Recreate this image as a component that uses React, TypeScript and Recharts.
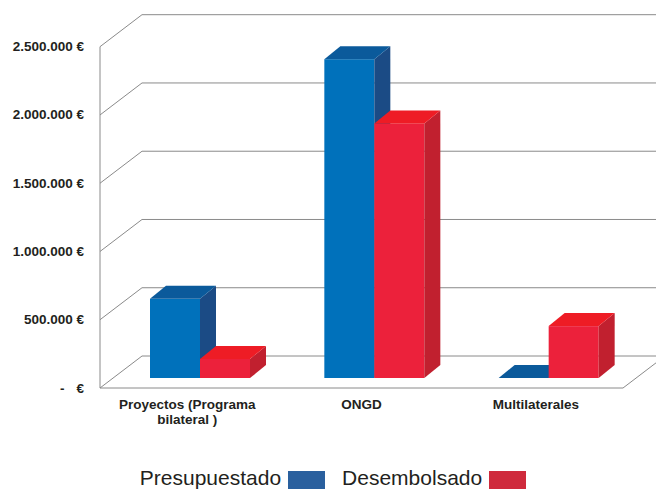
import { Bar, BarChart, CartesianGrid, Legend, XAxis, YAxis } from "recharts";

const categories = ["Proyectos (Programa bilateral )", "ONGD", "Multilaterales"];
const categoryLines = [["Proyectos (Programa", "bilateral )"], ["ONGD"], ["Multilaterales"]];
const presupuestado = [580000, 2335000, 0];
const desembolsado = [140000, 1865000, 380000];
const yTicks = [0, 500000, 1000000, 1500000, 2000000, 2500000];

const data = categories.map((name, i) => ({
  name,
  presupuestado: presupuestado[i],
  desembolsado: desembolsado[i],
}));

// perspective of the back wall and where the bars sit inside the depth
const DEPTH_X = 42;
const DEPTH_Y = 32;
const BAR_SHIFT_X = 13;
const BAR_SHIFT_Y = 10;
const BAR_DEPTH_X = 16;
const BAR_DEPTH_Y = 13;

const gridColor = "#8a8a8a";
const textColor = "#231f20";

const blue = { front: "#0071bb", top: "#0b5a9b", side: "#1b4b85", legend: "#2a609e" };
const red = { front: "#ec213b", top: "#ee1c25", side: "#c1202f", legend: "#cf2a3c" };

const fmt = (v: number) => v.toLocaleString("de-DE");

function make3DBar(colors: typeof blue) {
  return (props: any) => {
    const { x, y, width, height } = props;
    if (x == null || y == null) return <g />;
    const h = Math.max(0, height || 0);
    const fx = x + BAR_SHIFT_X;
    const fy = y - BAR_SHIFT_Y;
    const w = width;
    const top = `M${fx},${fy} L${fx + BAR_DEPTH_X},${fy - BAR_DEPTH_Y} L${fx + w + BAR_DEPTH_X},${fy - BAR_DEPTH_Y} L${fx + w},${fy} Z`;
    const side = `M${fx + w},${fy} L${fx + w + BAR_DEPTH_X},${fy - BAR_DEPTH_Y} L${fx + w + BAR_DEPTH_X},${fy + h - BAR_DEPTH_Y} L${fx + w},${fy + h} Z`;
    return (
      <g>
        {h > 0 && <rect x={fx} y={fy} width={w} height={h} fill={colors.front} />}
        {h > 0 && <path d={side} fill={colors.side} />}
        <path d={top} fill={colors.top} />
      </g>
    );
  };
}

const GridLine = (props: any) => {
  const { x1, x2, y1, y, height } = props;
  const isFloor = Math.abs(y1 - (y + height)) < 1;
  return (
    <g fill="none" stroke={gridColor} strokeWidth={1}>
      <path d={`M${x1},${y1} L${x1 + DEPTH_X},${y1 - DEPTH_Y} L${x2 + DEPTH_X + 20},${y1 - DEPTH_Y}`} />
      {isFloor && <path d={`M${x1},${y1} L${x2},${y1} L${x2 + DEPTH_X},${y1 - DEPTH_Y}`} />}
    </g>
  );
};

const YTick = (props: any) => {
  const { x, y, payload } = props;
  const v = payload.value as number;
  const style = { fontFamily: "Liberation Sans, Arial, sans-serif", fontSize: 13.5, fontWeight: 700, fill: textColor };
  if (v === 0) {
    return (
      <g>
        <text x={x - 19.5} y={y + 4.5} textAnchor="end" style={style}>-</text>
        <text x={x} y={y + 4.5} textAnchor="end" style={style}>€</text>
      </g>
    );
  }
  return (
    <text x={x} y={y + 4.5} textAnchor="end" style={style}>
      {fmt(v)} €
    </text>
  );
};

const XTick = (props: any) => {
  const { x, y, index } = props;
  const lines = categoryLines[index] || [];
  return (
    <text
      x={x}
      y={y}
      textAnchor="middle"
      style={{ fontFamily: "Liberation Sans, Arial, sans-serif", fontSize: 13.5, fontWeight: 700, fill: textColor }}
    >
      {lines.map((line, i) => (
        <tspan key={i} x={x} dy={i === 0 ? 21 : 15}>
          {line}
        </tspan>
      ))}
    </text>
  );
};

const LegendContent = () => {
  const items = [
    { label: "Presupuestado", color: blue.legend },
    { label: "Desembolsado", color: red.legend },
  ];
  return (
    <div
      style={{
        display: "flex",
        justifyContent: "center",
        alignItems: "center",
        fontFamily: "Liberation Sans, Arial, sans-serif",
        fontSize: 21,
        color: textColor,
        lineHeight: "24px",
        paddingLeft: 10,
      }}
    >
      {items.map((it, i) => (
        <span key={it.label} style={{ display: "flex", alignItems: "center", marginLeft: i === 0 ? 0 : 17 }}>
          <span>{it.label}</span>
          <span
            style={{ display: "inline-block", width: 37, height: 18, background: it.color, marginLeft: 7, marginTop: 4 }}
          />
        </span>
      ))}
    </div>
  );
};

export default function App() {
  return (
    <div style={{ position: "absolute", left: 0, top: 0, width: 656, height: 491, overflow: "hidden", background: "#fff" }}>
      <BarChart
        width={656}
        height={491}
        data={data}
        margin={{ top: 46.7, right: 33, bottom: 0, left: 0 }}
        barGap={0}
        barSize={50}
      >
        <CartesianGrid vertical={false} horizontal={GridLine} />
        <XAxis
          dataKey="name"
          axisLine={false}
          tickLine={false}
          tickSize={0}
          tickMargin={0}
          height={103}
          interval={0}
          tick={XTick}
        />
        <YAxis
          domain={[0, 2500000]}
          ticks={yTicks}
          width={100}
          axisLine={{ stroke: gridColor }}
          tickLine={false}
          tickSize={8}
          tickMargin={8}
          tick={YTick}
        />
        <Legend
          layout="horizontal"
          verticalAlign="middle"
          align="center"
          content={<LegendContent />}
          wrapperStyle={{ top: 466, left: 0, width: 656 }}
        />
        <Bar dataKey="presupuestado" name="Presupuestado" fill={blue.front} shape={make3DBar(blue)} isAnimationActive={false} />
        <Bar dataKey="desembolsado" name="Desembolsado" fill={red.front} shape={make3DBar(red)} isAnimationActive={false} />
      </BarChart>
    </div>
  );
}
